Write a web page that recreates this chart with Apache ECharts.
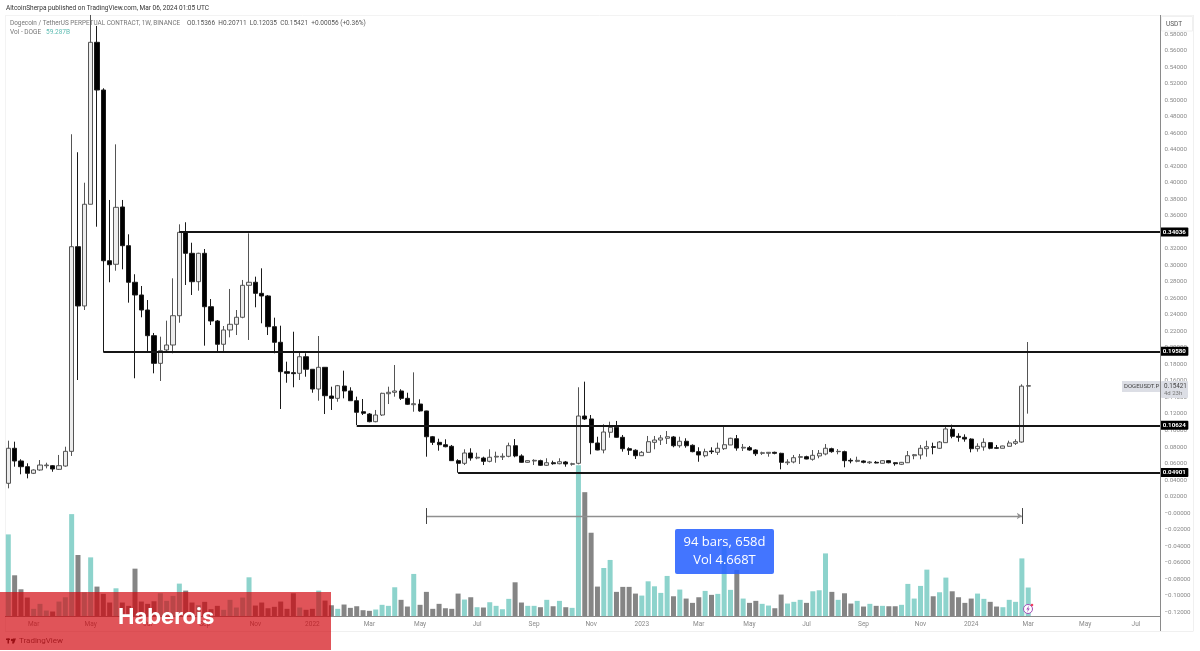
<!DOCTYPE html>
<html><head><meta charset="utf-8">
<style>html,body{margin:0;padding:0;background:#fff}#c{width:1200px;height:651px;filter:blur(0.4px)}</style>
<script src="https://cdn.jsdelivr.net/npm/echarts@6/dist/echarts.min.js"></script>
</head><body><div id="c"></div>
<script>
const opens=[.0360,.0784,.0630,.0561,.0481,.0521,.0573,.0573,.0529,.0569,
.0747,.3226,.2508,.3740,.5702,.5124,.3056,.3013,.3707,.3238,
.2795,.2641,.2459,.2148,.1813,.1975,.2035,.2390,.3400,.3146,
.2802,.3146,.2499,.2326,.2044,.2217,.2286,.2371,.2758,.2795,
.2661,.2629,.2257,.2068,.1712,.1700,.1692,.1893,.1741,.1502,
.1765,.1417,.1389,.1538,.1478,.1360,.1227,.1199,.1106,.1187,
.1445,.1462,.1478,.1389,.1312,.1320,.1236,.0924,.0856,.0827,
.0808,.0634,.0602,.0727,.0666,.0666,.0626,.0678,.0678,.0687,
.0815,.0691,.0614,.0630,.0634,.0578,.0609,.0597,.0618,.0590,
.0602,.1175,.1139,.0848,.0763,.0978,.1038,.0917,.0779,.0760,
.0694,.0735,.0856,.0884,.0905,.0921,.0815,.0869,.0820,.0743,
.0694,.0751,.0735,.0779,.0824,.0900,.0787,.0791,.0763,.0723,
.0723,.0735,.0723,.0609,.0618,.0675,.0682,.0651,.0691,.0715,
.0779,.0743,.0743,.0638,.0626,.0630,.0609,.0614,.0602,.0634,
.0609,.0590,.0609,.0694,.0703,.0779,.0803,.0784,.0852,.1014,
.0929,.0917,.0896,.0779,.0800,.0852,.0791,.0784,.0808,.0844,
.0860,.15366];
const closes=[.0784,.0630,.0561,.0481,.0521,.0581,.0581,.0533,.0573,.0747,
.3226,.2508,.3740,.5702,.5124,.3056,.3008,.3703,.3238,.2795,
.2641,.2459,.2148,.1813,.1966,.2035,.2390,.3400,.3146,.2802,
.3146,.2499,.2326,.2044,.2217,.2286,.2371,.2758,.2795,.2661,
.2629,.2257,.2068,.1712,.1692,.1688,.1893,.1741,.1502,.1765,
.1421,.1389,.1542,.1478,.1360,.1220,.1208,.1106,.1187,.1450,
.1462,.1478,.1389,.1317,.1324,.1236,.0924,.0856,.0827,.0803,
.0634,.0602,.0727,.0666,.0675,.0626,.0675,.0687,.0687,.0815,
.0691,.0614,.0634,.0638,.0578,.0609,.0597,.0621,.0594,.0597,
.1175,.1139,.0852,.0763,.0981,.1038,.0917,.0779,.0760,.0694,
.0735,.0864,.0884,.0909,.0924,.0815,.0869,.0815,.0743,.0703,
.0743,.0743,.0784,.0827,.0905,.0787,.0796,.0763,.0718,.0730,
.0735,.0723,.0614,.0618,.0670,.0682,.0654,.0699,.0723,.0784,
.0743,.0747,.0634,.0630,.0638,.0614,.0618,.0606,.0634,.0609,
.0597,.0614,.0694,.0706,.0784,.0803,.0796,.0860,.1018,.0929,
.0917,.0896,.0779,.0808,.0856,.0784,.0784,.0812,.0848,.0864,
.15366,.15421];
const highs=[.0876,.0864,.0651,.0602,.0529,.0642,.0609,.0581,.0703,.0803,
.4588,.4370,.4001,.6033,.5900,.5145,.3792,.4466,.3792,.3376,
.2892,.2750,.2580,.2181,.2136,.2330,.2843,.3497,.3522,.3274,
.3153,.3198,.2592,.2338,.2265,.2714,.2459,.2823,.3388,.2863,
.2964,.2641,.2366,.2269,.1833,.2196,.1954,.1935,.1744,.2144,
.1768,.1530,.1551,.1724,.1523,.1409,.1381,.1211,.1248,.1457,
.1530,.1793,.1499,.1457,.1704,.1377,.1239,.0933,.0900,.0893,
.0824,.0651,.0772,.0784,.0730,.0682,.0772,.0743,.0723,.0852,
.0896,.0711,.0638,.0651,.0646,.0663,.0634,.0663,.0630,.0609,
.1523,.1591,.1187,.0924,.1075,.1106,.1115,.0945,.0796,.0772,
.0751,.0933,.0933,.0945,.0993,.0933,.0924,.0905,.0832,.0796,
.0779,.0796,.0852,.1058,.0912,.0945,.0836,.0812,.0772,.0743,
.0739,.0743,.0730,.0651,.0703,.0715,.0694,.0763,.0763,.0836,
.0791,.0775,.0755,.0663,.0682,.0638,.0630,.0630,.0638,.0642,
.0614,.0618,.0751,.0715,.0824,.0876,.0852,.0872,.1054,.1070,
.0966,.0953,.0905,.0844,.0905,.0856,.0824,.0815,.0876,.0893,
.1559,.20711];
const lows=[.0299,.0561,.0469,.0420,.0472,.0512,.0541,.0500,.0521,.0561,
.0691,.1611,.2459,.3740,.3468,.1950,.2795,.2935,.2952,.2548,
.1632,.2371,.1954,.1692,.1599,.1954,.1935,.2305,.2762,.2641,
.2693,.2027,.2277,.1954,.1954,.2128,.2156,.2359,.2096,.2492,
.2298,.2156,.1935,.1260,.1578,.1523,.1611,.1651,.1457,.1360,
.1199,.1248,.1348,.1389,.1357,.1066,.1187,.1099,.1099,.1175,
.1320,.1409,.1369,.1308,.1227,.1227,.0682,.0824,.0755,.0796,
.0630,.0488,.0581,.0634,.0651,.0581,.0614,.0609,.0642,.0675,
.0675,.0609,.0609,.0581,.0569,.0569,.0585,.0590,.0561,.0573,
.0590,.1127,.0711,.0760,.0723,.0912,.0912,.0743,.0703,.0654,
.0691,.0730,.0772,.0824,.0836,.0796,.0791,.0791,.0735,.0621,
.0675,.0715,.0703,.0763,.0824,.0755,.0751,.0755,.0691,.0703,
.0682,.0711,.0529,.0581,.0602,.0594,.0651,.0634,.0663,.0699,
.0730,.0711,.0554,.0602,.0614,.0602,.0594,.0602,.0600,.0602,
.0573,.0581,.0606,.0651,.0651,.0682,.0711,.0775,.0852,.0905,
.0864,.0864,.0735,.0743,.0755,.0772,.0775,.0784,.0803,.0824,
.0852,.12035];
const volumes=[168,84.3,55.7,38.8,15.7,25.9,12.2,10.2,30.6,39.4,
209.5,125.9,49.6,121,61.2,46.3,28.6,57.7,28.6,21.8,
97.9,30.6,25.9,31.2,47.5,32,42.2,67.3,53,28.6,
23,30,14.9,21.8,13.7,34.1,18.4,38.8,80.2,22.4,
28.6,16.9,19.8,30.6,15.7,47.5,18.4,13.7,15.7,53,
32.6,23,15.7,24.5,17.7,21,12.9,11.6,14.3,23.9,
21.8,59.8,34.1,20.4,87.1,23.9,50.4,15.7,25.9,16.9,
15.7,46.9,34.7,39.4,19,18.4,29.2,21.8,14.9,36.1,
70,28.6,21.8,21.8,19,34.1,21,32,19,17.7,
309.5,254.4,171.4,61.2,99.3,115.7,50.4,60.6,60.6,46.9,
42.8,72,61.8,48.3,83,41.4,55.1,36.7,27.9,39.4,
52.4,44.3,46.3,142.8,54.5,95.3,36.7,27.9,32,25.9,
22.4,16.9,44.9,26.5,30,34.1,27.9,51.6,53.7,129.1,
50.4,34.1,47.5,26.5,32,20.4,25.9,21.8,21.8,21,
21,23.9,66.7,36.7,62.6,95.9,41.4,49.6,79.6,51.6,
39.4,27.9,36.7,46.9,36.1,30,20.4,19,34.1,30,
118.9,59.3];
const levelValues=[0.34036,0.19580,0.10624,0.04901];
const levelStartBar=[27,15,55,71];
const rangeStartBar=66, rangeEndBar=160, rangeValue=-0.0036, rangeTickTop=0.006, rangeTickBottom=-0.0133;
const monthNames=['Jan','Feb','Mar','Apr','May','Jun','Jul','Aug','Sep','Oct','Nov','Dec'];
const firstWeek='2021-02-01', categoryCount=183;

const weeks=[];
for(let i=0;i<categoryCount;i++){
  const d=new Date(Date.parse(firstWeek+'T00:00:00Z')+i*7*864e5);
  weeks.push(d.toISOString().slice(0,10));
}
const isTick=s=>{const d=new Date(s+'T00:00:00Z');return d.getUTCDate()<=7&&d.getUTCMonth()%2===0;};
const tickText=s=>{const d=new Date(s+'T00:00:00Z');return d.getUTCMonth()===0?String(d.getUTCFullYear()):monthNames[d.getUTCMonth()];};
const candle=opens.map((o,i)=>[o,closes[i],lows[i],highs[i]]);
const volData=volumes.map((v,i)=>({value:v,itemStyle:{color:closes[i]>=opens[i]?'#8dd3cc':'#858585'}}));
const yFmt=v=>{
  if(v>0.59||v<-0.13)return '';
  const a=Math.abs(v)<1e-9;
  return a?'\u22120.00000':(v<0?'\u2212':'')+Math.abs(v).toFixed(5);
};
const levelLines=levelValues.map((v,i)=>[
  {coord:[weeks[levelStartBar[i]],v],
   lineStyle:{color:'#151515',width:2,type:'solid'},
   label:{show:true,position:'end',distance:-1,formatter:v.toFixed(5),color:'#fff',backgroundColor:'#000',
     fontFamily:'Roboto',fontSize:6.2,fontWeight:'bold',padding:[1.5,2.5,1.5,2.5],borderRadius:1}},
  {coord:[weeks[categoryCount-1],v]}
]);
const noLabel={label:{show:false}};
const rangeLines=[
  [{coord:[weeks[rangeStartBar],rangeValue],lineStyle:{color:'#8f8f8f',width:1.3,type:'solid'},...noLabel},
   {coord:[weeks[rangeEndBar],rangeValue],symbol:'arrow',symbolSize:5}],
  [{coord:[weeks[rangeStartBar],rangeTickTop],lineStyle:{color:'#444',width:1,type:'solid'},...noLabel},
   {coord:[weeks[rangeStartBar],rangeTickBottom]}],
  [{coord:[weeks[rangeEndBar],rangeTickTop],lineStyle:{color:'#444',width:1,type:'solid'},...noLabel},
   {coord:[weeks[rangeEndBar],rangeTickBottom]}]
];
const F='Roboto, "Liberation Sans", sans-serif';
const T=(x,y,text,o={})=>({type:'text',x,y,z:o.z||100,silent:true,
  style:{text,fill:o.fill||'#555',font:(o.weight||'normal')+' '+(o.size||6.5)+'px '+(o.family||F),
         textAlign:o.align||'left',textVerticalAlign:'middle'}});
const R=(x,y,width,height,fill,o={})=>({type:'rect',z:o.z||90,silent:true,
  shape:{x,y,width,height,r:o.r||0},style:{fill,stroke:o.stroke||null,lineWidth:o.stroke?1:0}});
const L=(x1,y1,x2,y2,stroke,o={})=>({type:'line',z:o.z||1,silent:true,
  shape:{x1,y1,x2,y2},style:{stroke,lineWidth:o.w||1}});

const chart=echarts.init(document.getElementById('c'),null,{renderer:'canvas'});
chart.setOption({
  animation:false,
  backgroundColor:'#fff',
  grid:[
    {left:5.13,width:1159.3,top:17.7,bottom:22.43},
    {left:5.13,width:1159.3,top:465,bottom:34.5}
  ],
  xAxis:[
    {type:'category',data:weeks,gridIndex:0,axisLine:{show:false},axisTick:{show:false},axisLabel:{show:false},splitLine:{show:false}},
    {type:'category',data:weeks,gridIndex:1,axisLine:{show:false},axisTick:{show:false},
     axisLabel:{interval:(i,s)=>isTick(s),formatter:tickText,hideOverlap:false,color:'#8a8a8a',fontFamily:F,fontSize:6.5,margin:4},splitLine:{show:false}}
  ],
  yAxis:[
    {type:'value',gridIndex:0,position:'right',offset:-3.9,min:-0.14,max:0.6,interval:0.02,scale:false,
     axisLine:{show:false},axisTick:{show:false},splitLine:{show:false},
     axisLabel:{formatter:yFmt,color:'#8a8a8a',fontFamily:F,fontSize:6.2,margin:4,showMinLabel:true,showMaxLabel:true,hideOverlap:false}},
    {type:'value',gridIndex:1,min:0,max:310,show:false,splitLine:{show:false}}
  ],
  series:[
    {type:'bar',name:'Vol',xAxisIndex:1,yAxisIndex:1,data:volData,barWidth:5,silent:true,z:1},
    {type:'candlestick',name:'DOGEUSDT.P',xAxisIndex:0,yAxisIndex:0,data:candle,barWidth:4.6,clip:false,silent:true,z:2,
     itemStyle:{color:'#ececec',color0:'#000',borderColor:'#555',borderColor0:'#1a1a1a',borderWidth:1},
     markLine:{silent:true,symbol:'none',animation:false,precision:5,data:[...levelLines,...rangeLines]}}
  ],
  graphic:{elements:[
    // frame
    L(5.5,15.5,1193.5,15.5,'#f3f3f3'),
    L(5.5,15,5.5,631,'#f3f3f3'),
    L(1193.5,15,1193.5,631,'#f0f0f0'),
    L(5,631.5,1193.5,631.5,'#f0f0f0'),
    L(1160.5,15,1160.5,631,'#8a8a8a',{z:40}),
    L(5,616.5,1160.5,616.5,'#8a8a8a',{z:40}),
    // usdt
    R(1161.5,16.5,31,14.5,'#fff',{stroke:'#f0f0f0',z:41}),
    T(1174,24,'USDT',{size:6.5,fill:'#555',z:42,align:'center'}),
    // header
    T(6,8,'AltcoinSherpa published on TradingView.com, Mar 06, 2024 01:05 UTC',{size:6.5,fill:'#333'}),
    T(10,23,'Dogecoin / TetherUS PERPETUAL CONTRACT, 1W, BINANCE',{size:6.4,fill:'#777'}),
    T(187,23,'O0.15366  H0.20711  L0.12035  C0.15421  +0.00056 (+0.36%)',{size:6.5,fill:'#555'}),
    T(10,32,'Vol - DOGE',{size:6.5,fill:'#777'}),
    T(46,32,'59.287B',{size:6.5,fill:'#5dbcb2'}),
    // price tag
    R(1122,381,38,11,'#dcdee5',{z:60}),
    T(1124,386.5,'DOGEUSDT.P',{size:6,fill:'#444',z:61}),
    R(1161,381,27,17,'#dcdee5',{z:60,r:1}),
    T(1164,386.5,'0.15421',{size:6.3,fill:'#444',z:61}),
    T(1164,393.5,'4d 23h',{size:6,fill:'#777',z:61}),
    // range box
    R(675,529,99,45,'rgba(41,98,255,0.88)',{z:70,r:2}),
    T(724.5,542,'94 bars, 658d',{size:13,fill:'#fff',align:'center',z:71,family:'"Open Sans",sans-serif'}),
    T(724.5,560,'Vol 4.668T',{size:13,fill:'#fff',align:'center',z:71,family:'"Open Sans",sans-serif'}),
    // bottom logo + red band
    T(19,641,'TradingView',{size:8,fill:'#555',z:72}),
    R(6,638.5,4,1.5,'#333',{z:72}),
    R(7.5,638.5,1.5,5,'#333',{z:72}),
    {type:'circle',z:72,silent:true,shape:{cx:12,cy:640,r:1.2},style:{fill:'#333'}},
    {type:'polygon',z:72,silent:true,shape:{points:[[13,638.5],[16,638.5],[14,643.5],[12,643.5]]},style:{fill:'#333'}},
    R(0,592,331,58,'rgba(209,0,8,0.67)',{z:80}),
    T(118,617,'Haberois',{size:22,weight:'bold',fill:'#fff',z:81,family:'Inter, sans-serif'}),
    // event badge
    {type:'circle',z:85,silent:true,shape:{cx:1028,cy:609,r:4.5},style:{fill:'#fff',stroke:'#a050b8',lineWidth:1}},
    {type:'circle',z:86,silent:true,shape:{cx:1032,cy:605,r:1.3},style:{fill:'#f04060'}},
    {type:'polygon',z:86,silent:true,shape:{points:[[1029,605.5],[1026.3,609.5],[1028,609.5],[1027,612.5],[1029.8,608.5],[1028.2,608.5]]},style:{fill:'#a050b8'}}
  ]}
});
</script></body></html>
